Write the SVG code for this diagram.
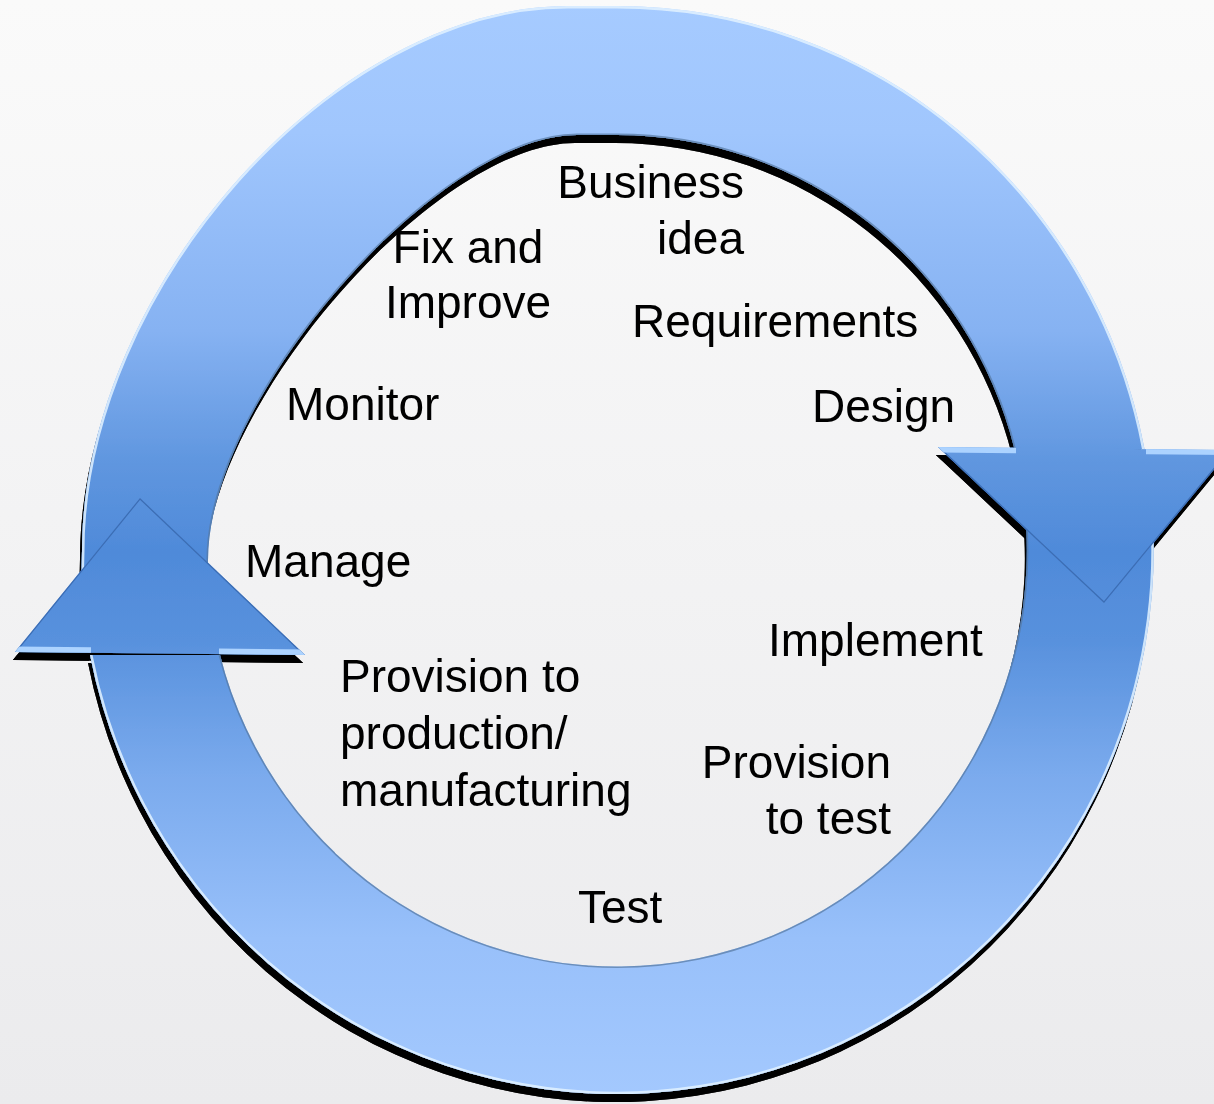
<svg xmlns="http://www.w3.org/2000/svg" width="1214" height="1104" viewBox="0 0 1214 1104">
<style>
.fill{fill:url(#ringGrad)}
.hi{fill:none;stroke:#e2f2ff;stroke-width:5;opacity:.85}
.lo{fill:none;stroke:#55779f;stroke-width:3;opacity:.7}
.edge{fill:none;stroke:#3c6db4;stroke-width:2.5}
.wing{fill:none;stroke:#acd3ff;stroke-width:6}
.lbl{font-family:"Liberation Sans",Arial,sans-serif;font-size:46px;fill:#000}
</style>
<defs>
<linearGradient id="bg" x1="0" y1="0" x2="0" y2="1">
<stop offset="0" stop-color="#fafafa"/><stop offset="1" stop-color="#ebebed"/>
</linearGradient>
<linearGradient id="ringGrad" gradientUnits="userSpaceOnUse" x1="0" y1="0" x2="0" y2="1104">
<stop offset="0" stop-color="#a6cbff"/>
<stop offset="0.12" stop-color="#a0c6fd"/>
<stop offset="0.3" stop-color="#86b2f2"/>
<stop offset="0.42" stop-color="#5f96df"/>
<stop offset="0.5" stop-color="#4f8ad9"/>
<stop offset="0.58" stop-color="#5891dd"/>
<stop offset="0.7" stop-color="#7aaaed"/>
<stop offset="0.85" stop-color="#98c0fa"/>
<stop offset="1" stop-color="#a4c9fe"/>
</linearGradient>
<filter id="shadow" filterUnits="userSpaceOnUse" x="0" y="0" width="1214" height="1104">
<feOffset in="SourceAlpha" dx="-2" dy="8" result="off"/>
<feMerge><feMergeNode in="off"/><feMergeNode in="SourceGraphic"/></feMerge>
</filter>
<path id="topArc" d="M80,630 L82,551 C82,289.4 334,6 567,6 L617,6 A537 545 0 0 1 1144.5,449 L1014.5,449 A410 416 0 0 0 617,135 L577,135 C437,135 208,398.5 208,560 L208,630 Z"/>
<path id="botArc" d="M1150.6,490 A537 545 0 0 1 90,655 L220,655 A410 416 0 0 0 1022.5,490 Z"/>
<polygon id="headR" points="938,447 1230,450 1104,603"/>
<polygon id="headL" points="140,498 305,655 15,652"/>
<clipPath id="cTop"><use href="#topArc"/></clipPath>
<clipPath id="cBot"><use href="#botArc"/></clipPath>
<clipPath id="cHR"><use href="#headR"/></clipPath>
<clipPath id="cHL"><use href="#headL"/></clipPath>
</defs>
<rect width="1214" height="1104" fill="url(#bg)"/>
<g id="connectors" filter="url(#shadow)">
<g id="arrow-bottom-body">
<use href="#botArc" class="fill"/>
<g clip-path="url(#cBot)">
<path class="hi" d="M1150.6,490 A537 545 0 0 1 90,655"/>
<path class="lo" d="M220,655 A410 416 0 0 0 1022.5,490"/>
</g>
</g>
<g id="arrow-top">
<use href="#topArc" class="fill"/>
<g clip-path="url(#cTop)">
<path class="hi" d="M80,630 L82,551 C82,289.4 334,6 567,6 L617,6 A537 545 0 0 1 1144.5,449"/>
<path class="lo" d="M1014.5,449 A410 416 0 0 0 617,135 L577,135 C437,135 208,398.5 208,560 L208,630"/>
</g>
<use href="#headR" class="fill"/>
<g clip-path="url(#cHR)">
<path class="edge" d="M938,447 L1104,603 L1230,450"/>
<path class="wing" d="M938,449.5 L1016,450.3 M1146,451.2 L1230,452"/>
</g>
</g>
<g id="arrow-bottom-head">
<use href="#headL" class="fill"/>
<g clip-path="url(#cHL)">
<path class="edge" d="M15,652 L140,498 L305,655"/>
<path class="wing" d="M15,649.5 L91,650.3 M219,651.6 L305,652.5"/>
</g>
</g>
</g>
<g id="business-idea"><text class="lbl" text-anchor="end"><tspan x="744" y="198">Business</tspan><tspan x="744" y="254">idea</tspan></text></g>
<g id="requirements"><text class="lbl" x="632" y="337">Requirements</text></g>
<g id="design"><text class="lbl" x="812" y="422">Design</text></g>
<g id="implement"><text class="lbl" x="768" y="656">Implement</text></g>
<g id="provision-to-test"><text class="lbl" text-anchor="end"><tspan x="891" y="778">Provision</tspan><tspan x="891" y="834">to test</tspan></text></g>
<g id="test"><text class="lbl" x="578" y="923">Test</text></g>
<g id="provision-to-production"><text class="lbl"><tspan x="340" y="692">Provision to</tspan><tspan x="340" y="749">production/</tspan><tspan x="340" y="806">manufacturing</tspan></text></g>
<g id="manage"><text class="lbl" x="245" y="577">Manage</text></g>
<g id="monitor"><text class="lbl" x="286" y="420">Monitor</text></g>
<g id="fix-and-improve"><text class="lbl" text-anchor="middle"><tspan x="468" y="263">Fix and</tspan><tspan x="468" y="318">Improve</tspan></text></g>
</svg>
